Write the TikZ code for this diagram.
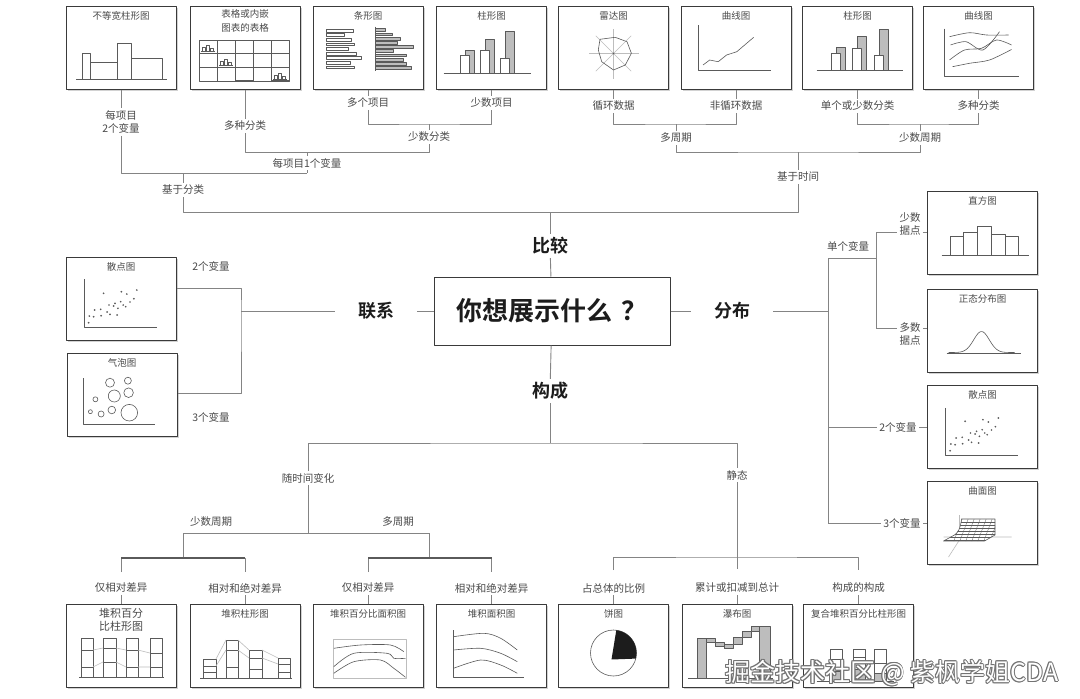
\documentclass[tikz,border=0pt]{standalone}
\usepackage{fontspec}
\setmainfont{Noto Sans CJK SC}[BoldFont={Noto Sans CJK SC Bold}]
\usepackage{tikz}
\usetikzlibrary{shadows}
\definecolor{wire}{HTML}{848484}
\definecolor{note}{HTML}{4A4A4A}
\definecolor{rim}{HTML}{3A3A3A}
\definecolor{pencil}{HTML}{5A5A5A}
\definecolor{tone}{HTML}{BDBDBD}
\definecolor{ink}{HTML}{1C1C1C}
\tikzset{fig/.style={x=1pt,y=-1pt,line join=round,wire,line width=0.9pt},
  chart/.style={draw=rim,line width=1pt,fill=white,minimum width=110pt,minimum height=83pt,inner sep=0pt,
    drop shadow={shadow xshift=1.8pt,shadow yshift=-1.8pt,opacity=0.35}},
  ttl/.style={font=\fontsize{9.5}{14}\selectfont,text=note,align=center,inner sep=1pt},
  lbl/.style={font=\fontsize{10.5}{13}\selectfont,text=note,align=center,inner sep=2pt},
  head/.style={font=\fontsize{18}{20}\selectfont\bfseries,text=ink,inner xsep=23pt,inner ysep=3pt},
  icon/.style={pencil,line width=0.6pt},
  heavy/.style={line width=1.7pt,draw=pencil},
  stamp/.style={anchor=west,inner sep=0pt,font=\fontsize{25}{27}\selectfont}}
\newcommand\chartbox[5][]{%
  \node[chart] (#2) at (#3,#4) {};
  \node[ttl,anchor=north,#1] (#2t) at ([yshift=-4.5pt]#2.north) {#5};}
\newcommand\colpair[4]{%
  \draw[fill=tone] (#1+5,#4) rectangle (#1+14,#3);
  \draw[fill=white] (#1,#4) rectangle (#1+9,#2);}
\newcommand\scatterdots{%
  \foreach \px/\py in {-32.4/23.7,-31.7/17,-27.4/17.7,-26.4/11,-19.9/16.7,-17.4/-5.7,-20.3/10.3,
      -13.9/13,-11/15.3,-12/6,-7.4/7,-6/4.3,-3.1/9.3,-3.9/16,0.4/-7.3,-0.3/2.7,2.2/6,4.7/7.7,
      5.8/-5,12.9/-0.3,15.8/-9,9/3}
    \fill (\px,\py) circle (0.95);}

\begin{document}
\begin{tikzpicture}[fig]
  \fill[white] (0,0) rectangle (1080,699);
  \useasboundingbox (0,0) rectangle (1080,699);

  % chart boxes
  \chartbox{b1}{121}{47.5}{不等宽柱形图}
  \chartbox[yshift=1.5pt]{b2}{245}{47.5}{表格或内嵌\\图表的表格}
  \chartbox{b3}{368}{47.5}{条形图}
  \chartbox{b4}{491.5}{47.5}{柱形图}
  \chartbox{b5}{613.5}{47.5}{雷达图}
  \chartbox{b6}{736}{47.5}{曲线图}
  \chartbox{b7}{857.5}{47.5}{柱形图}
  \chartbox{b8}{978.5}{47.5}{曲线图}
  \chartbox{s1}{121}{299}{散点图}
  \chartbox{s2}{122}{395}{气泡图}
  \chartbox{r1}{982.5}{232.5}{直方图}
  \chartbox{r2}{982.5}{330.5}{正态分布图}
  \chartbox{r3}{982.5}{427}{散点图}
  \chartbox{r4}{982.5}{523}{曲面图}
  \chartbox[font=\fontsize{11}{13}\selectfont,yshift=1.5pt]{bb1}{121}{645.5}{堆积百分\\比柱形图}
  \chartbox{bb2}{245}{645.5}{堆积柱形图}
  \chartbox{bb3}{368}{645.5}{堆积百分比面积图}
  \chartbox{bb4}{491.5}{645.5}{堆积面积图}
  \chartbox{bb5}{613.5}{645.5}{饼图}
  \chartbox{bb6}{737}{645.5}{瀑布图}
  \chartbox{bb7}{858.5}{645.5}{复合堆积百分比柱形图}

  % little charts
  \begin{scope}[shift={(b1.center)},icon]
    \draw (-45,32) -- (46,32);
    \draw (-39,32) rectangle (-31,6) (-31,32) rectangle (-4,15)
      (-4,32) rectangle (10,-4) (10,32) rectangle (41,11);
  \end{scope}
  \begin{scope}[shift={(b2.center)},icon]
    \draw (-46,-7.5) rectangle (44,34);
    \foreach \gx in {-28,-10,8,26} \draw (\gx,-7.5) -- (\gx,34);
    \foreach \gy in {6,20} \draw (-46,\gy) -- (44,\gy);
    \foreach \cx/\cy in {-44/4,-26/18,28/32} {
      \draw (\cx,\cy) -- ++(14,0);
      \draw (\cx+1,\cy) rectangle ++(3,-4) (\cx+5,\cy) rectangle ++(3,-6) (\cx+9,\cy) rectangle ++(3,-3);}
    \draw[line width=1.5pt] (-10,33.5) -- (8,33.5) (26,33.5) -- (44,33.5);
  \end{scope}
  \begin{scope}[shift={(b3.center)},icon]
    \foreach \len [count=\i] in {27,18,25,28,22,30,35,24,28}
      \draw[fill=white] (-42,-23+\i*4.6) rectangle ++(\len,2.8);
    \foreach \len [count=\i] in {10,17,25,22,38,18,31,28,31,36}
      \draw[fill=tone] (7,-23+\i*4.2) rectangle ++(\len,2.8);
    \draw (7,-21) -- (7,23);
  \end{scope}
  \begin{scope}[shift={(b4.center)},icon]
    \colpair{-31.5}{7.5}{2.5}{26}
    \colpair{-11.5}{3}{-8}{26}
    \colpair{9}{11}{-16}{26}
    \draw (-48,26) -- (39,26);
  \end{scope}
  \begin{scope}[shift={(b5.center)},icon]
    \foreach \a in {0,45,...,315} \draw[tone] (0,6) -- ++(\a:25);
    \draw (-13.5,-8.2) -- (1.7,-10.2) -- (13.5,-5.8) -- (17.9,5.8) -- (11.8,17.5)
      -- (0,22.5) -- (-11.8,14.2) -- (-15.2,2.5) -- cycle;
    \fill (0,6) circle (0.9);
  \end{scope}
  \begin{scope}[shift={(b6.center)},icon]
    \draw (-38,-22.5) -- (-38,23.2) -- (34.6,23.2);
    \draw (-33,17.5) -- (-26.3,12.5) -- (-17.8,14.2) -- (-9.4,7.5) -- (0.8,4.2) -- (17.7,-10.2);
  \end{scope}
  \begin{scope}[shift={(b7.center)},icon]
    \colpair{-26}{5.8}{-0.2}{23}
    \colpair{-5}{0.8}{-11}{23}
    \colpair{17}{7.5}{-18}{23}
    \draw (-41,23) -- (45,23);
  \end{scope}
  \begin{scope}[shift={(b8.center)},icon]
    \draw (-34.4,-19) -- (-34.4,29) -- (40,29);
    \draw plot[smooth] coordinates {(-29,-10.8) (-9,-14.8) (8,-12.5) (30,-12.5)};
    \draw plot[smooth] coordinates {(-28,-2.5) (-12.5,-5.8) (4.4,2.5) (21,-15.8)};
    \draw plot[smooth] coordinates {(-29,12.5) (-14,2.5) (3,0.8) (18,-7.5) (33,-2.5)};
    \draw plot[smooth] coordinates {(-26,19.2) (-9,15.8) (11,12.5) (33,2)};
  \end{scope}
  \begin{scope}[shift={(s1.center)},icon]
    \draw (-37,-20) -- (-37,28) -- (36,28);
    \scatterdots
  \end{scope}
  \begin{scope}[shift={(s2.center)},icon]
    \draw (-39,-17) -- (-39,29) -- (33,29);
    \foreach \bx/\by/\br in {-12/-12.3/4.5,5.9/-14.3/3.5,-7.7/1/6,6.6/-2.3/4.8,-26.6/4.3/2.5,
        -10.2/15/3.8,-20.9/19/3,-31.6/16.7/2,7.3/17.7/8.3}
      \draw (\bx,\by) circle (\br);
  \end{scope}
  \begin{scope}[shift={(r1.center)},icon]
    \draw (-41,23.2) -- (46,23.2);
    \foreach \xa/\xb/\tp in {-32.5/-19.2/4.2,-19.2/-5.2/0.2,-5.2/9.2/-6.5,9.2/22.5/1.8,22.5/35.8/4.2}
      \draw (\xa,23.2) rectangle (\xb,\tp);
  \end{scope}
  \begin{scope}[shift={(r2.center)},icon]
    \draw (-36,22.5) -- (38,22.5);
    \draw plot[domain=-34:32,samples=50,smooth] (\x,{22-21*exp(-(((\x+1)/11)^2))});
  \end{scope}
  \begin{scope}[shift={(r3.center)},icon]
    \draw (-37.5,-19.2) -- (-37.5,27.8) -- (35.8,27.8);
    \scatterdots
  \end{scope}
  \begin{scope}[shift={(r4.center)},icon]
    \draw[tone] (-23,-8) -- (-23,14) (-39,14) -- (29,14) (-34,34) -- (-16,6);
    \draw[fill=white] (-39,18) -- (2,18) -- (12.5,12) -- (12.5,-4) -- (-21,-4)
      .. controls (-22,6) and (-25,10) .. (-28,12) -- cycle;
    \begin{scope}
      \clip (-39,18) -- (2,18) -- (12.5,12) -- (12.5,-4) -- (-21,-4)
        .. controls (-22,6) and (-25,10) .. (-28,12) -- cycle;
      \foreach \yy in {-1,2,...,17} \draw[line width=0.3pt] (-40,\yy) -- (14,\yy);
      \foreach \xx in {-20,-14,...,16} \draw[line width=0.3pt] (\xx,-5) -- (\xx-9,19);
    \end{scope}
  \end{scope}
  \begin{scope}[shift={(bb1.center)},icon]
    \draw (-42,31.5) -- (43,31.5);
    \foreach \xa/\xb/\da/\db in {-40/-28/4.5/21.5,-18/-5/2.5/16.5,5/17/4.5/21.5,29/41/7.5/21.5} {
      \draw (\xa,31.5) rectangle (\xb,-7.5);
      \draw (\xa,\da) -- (\xb,\da) (\xa,\db) -- (\xb,\db);}
    \draw[tone] (-28,4.5) -- (-18,2.5) (-5,2.5) -- (5,4.5) (17,4.5) -- (29,7.5)
      (-28,21.5) -- (-18,16.5) (-5,16.5) -- (5,21.5) (17,21.5) -- (29,21.5);
  \end{scope}
  \begin{scope}[shift={(bb2.center)},icon]
    \draw (-45,32.5) -- (47,32.5);
    \foreach \xa/\xb/\ta/\da/\db in {-42/-29/13.5/20.5/26.5,-19/-7/-5.5/4.5/21.5,4/17/4.5/12.5/23.5,33/45/12.5/18.5/26.5} {
      \draw (\xa,32.5) rectangle (\xb,\ta);
      \draw (\xa,\da) -- (\xb,\da) (\xa,\db) -- (\xb,\db);}
    \draw[tone] (-29,13.5) -- (-19,-5.5) (-7,-5.5) -- (4,4.5) (17,4.5) -- (33,12.5)
      (-29,20.5) -- (-19,4.5) (-7,4.5) -- (4,12.5) (17,12.5) -- (33,18.5);
  \end{scope}
  \begin{scope}[shift={(bb3.center)},icon]
    \draw[tone] (-35,-6.5) rectangle (38,32.5);
    \draw plot[smooth] coordinates {(-34.2,2.8) (-7.5,-0.5) (22.5,-0.5) (35.8,6.2)};
    \draw plot[smooth] coordinates {(-34.2,21.2) (-14.2,7.8) (19.2,7.8) (25.8,12.8) (37.5,12.8)};
    \draw plot[smooth] coordinates {(-34.2,27.8) (-14.2,16.2) (12.5,14.5) (25.8,22.8) (37.5,31.8)};
  \end{scope}
  \begin{scope}[shift={(bb4.center)},icon]
    \draw (-38,-15.5) -- (-38,31.5) -- (32,31.5);
    \draw plot[smooth] coordinates {(-38,-8.8) (-7.5,-12.2) (9.2,-7.2) (25.8,4.5)};
    \draw plot[smooth] coordinates {(-38,4.5) (-10.8,2.8) (9.2,7.8) (25.8,16.2)};
    \draw plot[smooth] coordinates {(-38,22.8) (-10.8,14.5) (9.2,19.5) (25.8,27.8)};
  \end{scope}
  \begin{scope}[shift={(bb5.center)},icon]
    \draw[fill=white] (0,7.5) circle (23);
    \fill[ink] (-2,14) -- (2.8,-15.3) arc[start angle=-83,end angle=14,radius=23] -- cycle;
  \end{scope}
  \begin{scope}[shift={(bb6.center)},icon]
    \draw (-49,32.5) -- (36,32.5);
    \foreach \xa/\xb/\ya/\yb in {-40/-31/-7/32.5,-31/-22/-7/-3,-22/-13/-3/1,-13/-4/-1/3,
        -4/5/-8/-1,5/14/-14/-8,14/22/-19.5/-14,22/33/-19.5/32.5}
      \draw[fill=tone] (\xa,\ya) rectangle (\xb,\yb);
  \end{scope}
  \begin{scope}[shift={(bb7.center)},icon]
    \draw (-42,36) -- (35,36);
    \foreach \xa/\da/\db in {-28/26/14,-5/24/12,16/28/18} {
      \draw[fill=white] (\xa,36) rectangle ++(12,-32);
      \draw[fill=tone] (\xa,36) rectangle (\xa+12,\da);
      \draw (\xa,\db) -- ++(12,0);}
  \end{scope}

  % centre and headings
  \node[draw=rim,line width=1pt,fill=white,minimum width=236pt,minimum height=68pt,
    font=\fontsize{26}{28}\selectfont\bfseries,text=ink,
    drop shadow={shadow xshift=1pt,shadow yshift=-1pt,opacity=0.3}] (q) at (552,311) {你想展示什么\hspace{0.35em}？};
  \node[head] (h1) at (550,246) {比较};
  \node[head] (h2) at (376,311) {联系};
  \node[head] (h3) at (732,311) {分布};
  \node[head] (h4) at (550,391) {构成};

  % labels
  \node[lbl] (t1) at (121,122) {每项目\\2个变量};
  \node[lbl] (t2) at (245,126) {多种分类};
  \node[lbl] (t3) at (368,103) {多个项目};
  \node[lbl] (t4) at (491.5,103) {少数项目};
  \node[lbl] (t5) at (429,137) {少数分类};
  \node[lbl] (t6) at (307,163) {每项目1个变量};
  \node[lbl] (t7) at (183,190) {基于分类};
  \node[lbl] (t8) at (613.5,106) {循环数据};
  \node[lbl] (t9) at (736,106) {非循环数据};
  \node[lbl] (t10) at (857.5,106) {单个或少数分类};
  \node[lbl] (t11) at (978.5,106) {多种分类};
  \node[lbl] (t12) at (676,138) {多周期};
  \node[lbl] (t13) at (920,138) {少数周期};
  \node[lbl] (t14) at (798,177) {基于时间};
  \node[lbl] (e1) at (211,266) {2个变量};
  \node[lbl] (e2) at (211,417) {3个变量};
  \node[lbl] (d0) at (848,246) {单个变量};
  \node[lbl] (d1) at (910,224) {少数\\据点};
  \node[lbl] (d2) at (910,334) {多数\\据点};
  \node[lbl] (d3) at (898,427) {2个变量};
  \node[lbl] (d4) at (902,523) {3个变量};
  \node[lbl] (t16) at (308,478) {随时间变化};
  \node[lbl] (t17) at (737,475) {静态};
  \node[lbl] (p1) at (211,522) {少数周期};
  \node[lbl] (p2) at (398,522) {多周期};
  \node[lbl] (u1) at (121,588) {仅相对差异};
  \node[lbl] (u2) at (245,588) {相对和绝对差异};
  \node[lbl] (u3) at (368,588) {仅相对差异};
  \node[lbl] (u4) at (491.5,588) {相对和绝对差异};
  \node[lbl] (v1) at (613.5,588) {占总体的比例};
  \node[lbl] (v2) at (737,588) {累计或扣减到总计};
  \node[lbl] (v3) at (858.5,588) {构成的构成};

  % junctions
  \coordinate (jA) at (307,173);
  \coordinate (jB) at (307,152);
  \coordinate (jC) at (429,152);
  \coordinate (jD) at (429,124);
  \coordinate (jE) at (183,173);
  \coordinate (jF) at (550,212);
  \coordinate (jG) at (676,124);
  \coordinate (jH) at (798,152);
  \coordinate (jI) at (920,124);
  \coordinate (jJ) at (241,311);
  \coordinate (jK) at (828,311);
  \coordinate (jM) at (828,523);
  \coordinate (jN) at (876,258);
  \coordinate (jO) at (876,232);
  \coordinate (jP) at (876,328);
  \coordinate (jQ) at (828,427);
  \coordinate (jR) at (550,443);
  \coordinate (jS) at (308,533);
  \coordinate (jT) at (183,533);
  \coordinate (jU) at (429,533);
  \coordinate (jV) at (183,558);
  \coordinate (jX) at (429,558);
  \coordinate (kA) at (121,572);
  \coordinate (kB) at (245,572);
  \coordinate (kC) at (368,572);
  \coordinate (kD) at (491.5,572);
  \coordinate (jY) at (737,557);
  \coordinate (jY0) at (737,569);
  \coordinate (kE) at (613.5,570);
  \coordinate (kF) at (858.5,570);

  % comparison, by category
  \draw (b1) -- (t1);
  \draw (t1) |- (jA);
  \draw (jB) -- (t6) -- (jA);
  \draw (b2) -- (t2);
  \draw (t2) |- (jC) -- (t5);
  \draw (b3) -- (t3);
  \draw (b4) -- (t4);
  \draw (t3) |- (jD) -| (t4);
  \draw (jD) -- (t5);
  \draw (jE) -- (t7);
  \draw (t7) |- (jF);
  % comparison, over time
  \draw (b5) -- (t8);
  \draw (b6) -- (t9);
  \draw (t8) |- (jG) -| (t9);
  \draw (jG) -- (t12);
  \draw (t12) |- (jH) -| (t13);
  \draw (b7) -- (t10);
  \draw (b8) -- (t11);
  \draw (t10) |- (jI) -| (t11);
  \draw (jI) -- (t13);
  \draw (jH) -- (t14);
  \draw (t14) |- (jF);
  \draw (jF) -- (h1);
  \draw (h1) -- (q);
  % relationship
  \draw (q) -- (h2);
  \draw (h2) -- (jJ);
  \draw ([yshift=11pt]s1.east) -| (jJ) |- ([yshift=2pt]s2.east);
  % distribution
  \draw (q) -- (h3);
  \draw (h3) -- (jK);
  \draw (jM) |- (jN);
  \draw (jO) -- (jP);
  \draw (jO) -- (jO -| d1.west);
  \draw (d1.east |- jO) -- (jO -| r1.west);
  \draw (jP) -- (jP -| d2.west);
  \draw (d2.east |- jP) -- (jP -| r2.west);
  \draw (jQ) -- (d3) -- (r3);
  \draw (jM) -- (d4) -- (r4);
  % composition
  \draw (q) -- (h4);
  \draw (h4) -- (jR);
  \draw (t16) |- (jR) -| (t17);
  \draw (t16) -- (jS);
  \draw (jT) -- (jU);
  \draw (jT) -- (jV);
  \draw (jU) -- (jX);
  \draw (kA) |- (jV) -| (kB);
  \draw (kC) |- (jX) -| (kD);
  \draw[heavy] (kA |- jV) -- (kB |- jV);
  \draw[heavy] (kC |- jX) -- (kD |- jX);
  \draw (t17) -- (jY0);
  \draw (kE) |- (jY) -| (kF);
  \draw (u1) -- (bb1);
  \draw (u2) -- (bb2);
  \draw (u3) -- (bb3);
  \draw (u4) -- (bb4);
  \draw (v1) -- (bb5);
  \draw (v2) -- (bb6);
  \draw (v3) -- (bb7);

  % watermark
  \coordinate (wmpos) at (725,673);
  \foreach \dx/\dy [count=\k] in {0.8/0,-0.8/0,0/0.8,0/-0.8,0.6/0.6,-0.6/0.6,0.6/-0.6,-0.6/-0.6}
    \node[stamp,text=black!55] (wm\k) at ([xshift=\dx pt,yshift=\dy pt]wmpos) {掘金技术社区 @ 紫枫学姐CDA};
  \node[stamp,text=white] (wm) at (wmpos) {掘金技术社区 @ 紫枫学姐CDA};
\end{tikzpicture}
\end{document}
